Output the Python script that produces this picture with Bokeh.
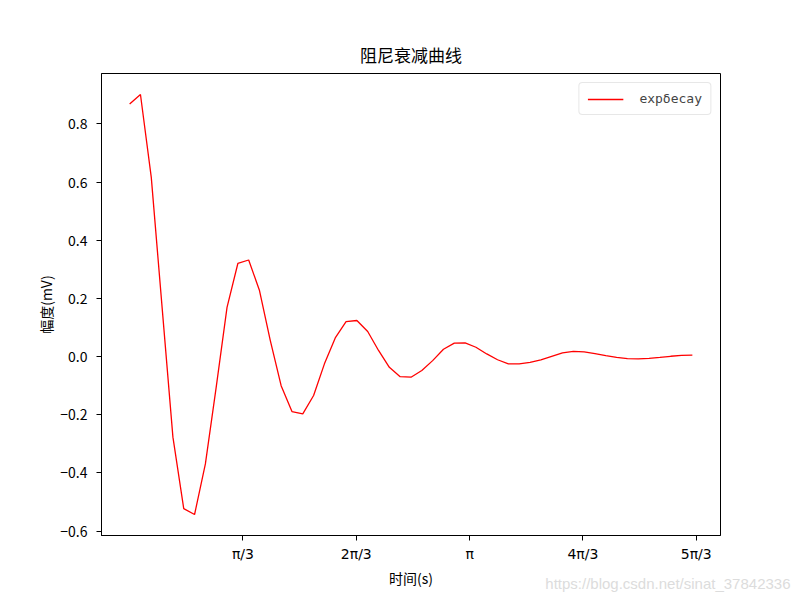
import math
from bokeh.plotting import figure
from bokeh.models import FixedTicker, Range1d, Legend, LegendItem, Title
from bokeh.embed import file_html
from bokeh.resources import INLINE

# ---- data ----
x_values = [0.0, 0.1, 0.2, 0.3, 0.4, 0.5, 0.6, 0.7, 0.8, 0.9,
            1.0, 1.1, 1.2, 1.3, 1.4, 1.5, 1.6, 1.7, 1.8, 1.9,
            2.0, 2.1, 2.2, 2.3, 2.4, 2.5, 2.6, 2.7, 2.8, 2.9,
            3.0, 3.1, 3.2, 3.3, 3.4, 3.5, 3.6, 3.7, 3.8, 3.9,
            4.0, 4.1, 4.2, 4.3, 4.4, 4.5, 4.6, 4.7, 4.8, 4.9,
            5.0, 5.1, 5.2]
y_values = [0.868, 0.901, 0.616, 0.169, -0.277, -0.523, -0.543, -0.369, -0.105, 0.169,
            0.320, 0.332, 0.227, 0.055, -0.100, -0.189, -0.197, -0.134, -0.025, 0.064,
            0.120, 0.124, 0.086, 0.021, -0.037, -0.069, -0.071, -0.048, -0.014, 0.025,
            0.046, 0.047, 0.032, 0.009, -0.011, -0.025, -0.025, -0.020, -0.011, 0.001,
            0.013, 0.018, 0.016, 0.010, 0.003, -0.003, -0.007, -0.008, -0.006, -0.003,
            0.001, 0.004, 0.005]
series_name = "expδecay"

x_tick_values = [math.pi / 3, 2 * math.pi / 3, math.pi, 4 * math.pi / 3, 5 * math.pi / 3]
x_tick_labels = ["π/3", "2π/3", "π", "4π/3", "5π/3"]
y_tick_values = [-0.6, -0.4, -0.2, 0.0, 0.2, 0.4, 0.6, 0.8]
y_tick_labels = ["−0.6", "−0.4", "−0.2", "0.0", "0.2", "0.4", "0.6", "0.8"]

title_text = "阻尼衰减曲线"
x_label = "时间(s)"
y_label = "幅度(mV)"
watermark = "https://blog.csdn.net/sinat_37842336"

CJK = "Noto Sans CJK SC"

# ---- ranges with 5% margins like matplotlib ----
xmin, xmax = min(x_values), max(x_values)
ymin, ymax = min(y_values), max(y_values)
xm = (xmax - xmin) * 0.05
ym = (ymax - ymin) * 0.05

p = figure(width=800, height=600, output_backend="svg", toolbar_location=None,
           x_range=Range1d(xmin - xm, xmax + xm), y_range=Range1d(ymin - ym, ymax + ym),
           min_border_left=101, min_border_right=80, min_border_top=73, min_border_bottom=65)

p.background_fill_color = "white"
p.border_fill_color = "white"
p.outline_line_color = "black"
p.outline_line_width = 1
p.xgrid.visible = False
p.ygrid.visible = False

p.title.text = title_text
p.title.align = "center"
p.title.text_font = CJK
p.title.text_font_size = "17px"
p.title.text_font_style = "normal"
p.title.text_color = "black"
p.title.standoff = 13

for ax in (p.xaxis[0], p.yaxis[0]):
    ax.axis_line_color = "black"
    ax.major_tick_line_color = "black"
    ax.major_tick_out = 5
    ax.major_tick_in = 0
    ax.minor_tick_line_color = None
    ax.major_label_text_color = "black"
    ax.axis_label_text_color = "black"
    ax.axis_label_text_font = CJK
    ax.axis_label_text_font_size = "14px"
    ax.axis_label_text_font_style = "normal"
    ax.major_label_text_font_size = "14px"

p.xaxis.ticker = FixedTicker(ticks=x_tick_values)
p.xaxis.major_label_overrides = dict(zip(x_tick_values, x_tick_labels))
p.xaxis.major_label_text_font = "DejaVu Sans"
p.xaxis.axis_label = x_label
p.xaxis.axis_label_standoff = 3

p.yaxis.ticker = FixedTicker(ticks=y_tick_values)
p.yaxis.major_label_overrides = dict(zip(y_tick_values, y_tick_labels))
p.yaxis.major_label_text_font = CJK
p.yaxis.major_label_standoff = 9
p.yaxis.axis_label = y_label
p.yaxis.axis_label_standoff = 1

r = p.line(x_values, y_values, line_color="#ff0000", line_width=1.3)

legend = Legend(items=[LegendItem(label=series_name, renderers=[r])],
                location="top_right", margin=9, padding=8, spacing=0,
                glyph_width=36, glyph_height=14, label_standoff=16,
                label_text_font="DejaVu Sans Mono", label_text_font_size="13px",
                label_height=14,
                border_line_color="#d0d0d0", border_line_width=1,
                border_radius=4, background_fill_alpha=0.8)
p.add_layout(legend)

wm = Title(text=watermark, align="right", vertical_align="top", standoff=-32, offset=-70,
           text_font="Liberation Sans", text_font_size="15px", text_font_style="normal",
           text_color="#dcdcdc")
p.add_layout(wm, "below")

open("out.html", "w").write(file_html(p, INLINE))
